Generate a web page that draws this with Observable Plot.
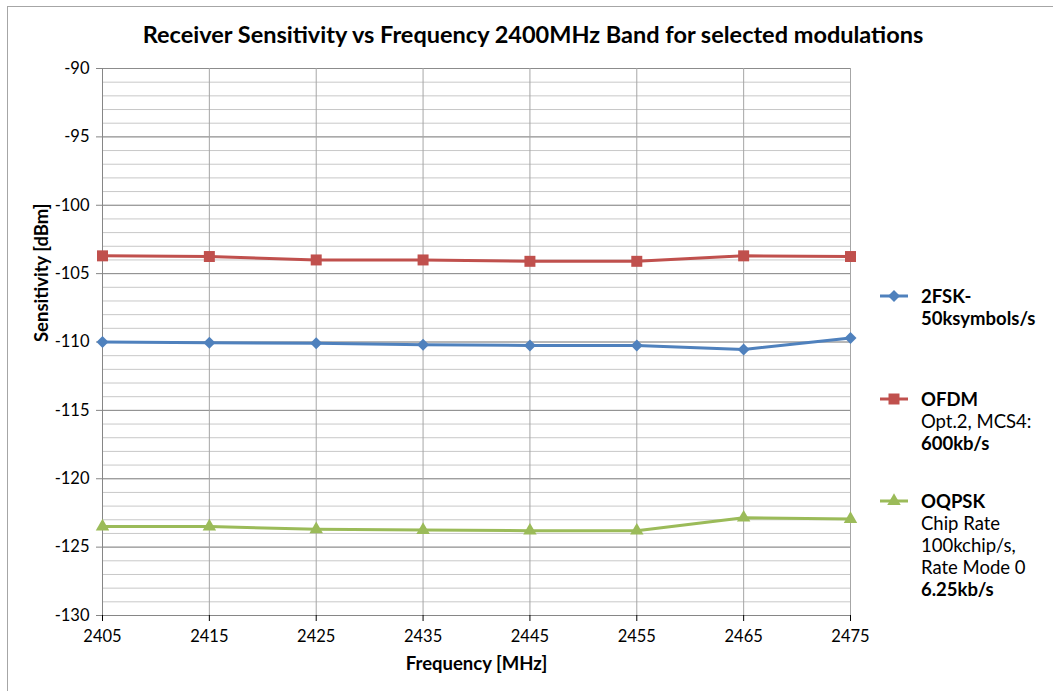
<!DOCTYPE html>
<html>
<head>
<meta charset="utf-8">
<script src="https://cdn.jsdelivr.net/npm/d3@7"></script>
<script src="https://cdn.jsdelivr.net/npm/@observablehq/plot@0.6"></script>
<style>
  body { margin: 0; background: #fff; font-family: Lato, "Open Sans", sans-serif; }
  #wrap { position: relative; width: 1053px; height: 691px; overflow: hidden; }
  #frame { position: absolute; left: 7px; top: 6px; width: 1060px; height: 700px; border-left: 1px solid #a6a6a6; border-top: 1px solid #a6a6a6; }
  #title { position: absolute; left: 0; width: 1066px; top: 20px; text-align: center; font-weight: bold; font-size: 23.5px; color: #000; }
  #chart { position: absolute; left: 0; top: 0; }
  #legend { position: absolute; left: 878px; top: 0; font-size: 18.5px; color: #000; line-height: 22px; }
  .item { position: absolute; left: 0; white-space: nowrap; }
  .item svg { position: absolute; left: 0; top: 3px; }
  .item .txt { position: absolute; left: 43px; top: 0; }
</style>
</head>
<body>
<div id="wrap">
  <div id="frame"></div>
  <div id="chart"></div>
  <div id="title">Receiver Sensitivity vs Frequency 2400MHz Band for selected modulations</div>
  <div id="legend"></div>
</div>
<script>
const frequencies = [2405, 2415, 2425, 2435, 2445, 2455, 2465, 2475];
const fsk = [-110.0, -110.05, -110.1, -110.2, -110.25, -110.25, -110.55, -109.7];
const ofdm = [-103.7, -103.75, -104.0, -104.0, -104.1, -104.1, -103.7, -103.75];
const oqpsk = [-123.5, -123.5, -123.7, -123.75, -123.8, -123.8, -122.85, -122.95];
const seriesNames = ["2FSK-50ksymbols/s", "OFDM", "OQPSK"];
const colors = ["#4F81BD", "#C0504D", "#9BBB59"];
const symbols = ["diamond2", "square", "triangle"];
const symbolR = [5.4, 6.2, 5.0];
const yTicks = [-130, -125, -120, -115, -110, -105, -100, -95, -90];
const yMinor = d3.range(-130, -89, 1);

const allSeries = [fsk, ofdm, oqpsk];
const data = [];
allSeries.forEach((vals, i) => vals.forEach((v, j) => data.push({freq: frequencies[j], value: v, series: seriesNames[i]})));

const marks = [
  Plot.ruleY(yMinor, {stroke: "#c8c8c8", strokeWidth: 1}),
  Plot.ruleY(yTicks, {stroke: "#8c8c8c", strokeWidth: 1}),
  Plot.ruleX(frequencies, {stroke: "#a6a6a6", strokeWidth: 1}),
  Plot.ruleX([2405], {stroke: "#868686", strokeWidth: 1}),
  Plot.ruleY([-130], {stroke: "#868686", strokeWidth: 1}),
  Plot.axisY({ticks: yTicks, tickSize: 6, tickPadding: 7, stroke: "#868686", fontSize: 16.5, label: null, tickFormat: d => d.toString()}),
  Plot.axisX({ticks: frequencies, tickSize: 6, tickPadding: 9, fontSize: 16.5, label: null, tickFormat: d => d.toString()}),
  Plot.text(["Sensitivity [dBm]"], {frameAnchor: "left", dx: -60, rotate: -90, fontSize: 18.5, fontWeight: "bold", fill: "#000"}),
  Plot.text(["Frequency [MHz]"], {frameAnchor: "bottom", dy: 54, fontSize: 18.5, fontWeight: "bold", fill: "#000"})
];
seriesNames.forEach((name, i) => {
  const d = data.filter(r => r.series === name);
  marks.push(Plot.line(d, {x: "freq", y: "value", stroke: colors[i], strokeWidth: 3}));
  marks.push(Plot.dot(d, {x: "freq", y: "value", fill: colors[i], stroke: "none", symbol: symbols[i], r: symbolR[i]}));
});

const plot = Plot.plot({
  width: 1053,
  height: 691,
  marginLeft: 102,
  marginRight: 203,
  marginTop: 68,
  marginBottom: 76,
  style: {fontFamily: "Lato, 'Open Sans', sans-serif", color: "#000", background: "transparent"},
  x: {domain: [2405, 2475], axis: null},
  y: {domain: [-130, -90], axis: null},
  marks
});
document.getElementById("chart").appendChild(plot);

// Legend
const legendItems = [
  {top: 285, lines: [["2FSK-", true], ["50ksymbols/s", true]]},
  {top: 388, lines: [["OFDM", true], ["Opt.2, MCS4:", false], ["600kb/s", true]]},
  {top: 490, lines: [["OQPSK", true], ["Chip Rate", false], ["100kchip/s,", false], ["Rate Mode 0", false], ["6.25kb/s", true]]}
];
const legend = document.getElementById("legend");
legendItems.forEach((it, i) => {
  const div = document.createElement("div");
  div.className = "item";
  div.style.top = it.top + "px";
  const sym = d3.symbol(d3["symbol" + symbols[i].charAt(0).toUpperCase() + symbols[i].slice(1)], Math.PI * symbolR[i] * symbolR[i])();
  div.innerHTML = `<svg width="32" height="16"><line x1="2" x2="30" y1="8" y2="8" stroke="${colors[i]}" stroke-width="3"/><path d="${sym}" transform="translate(16,8)" fill="${colors[i]}"/></svg>` +
    `<div class="txt">${it.lines.map(([t, b]) => `<div style="font-weight:${b ? "bold" : "normal"}">${t}</div>`).join("")}</div>`;
  legend.appendChild(div);
});
</script>
</body>
</html>
